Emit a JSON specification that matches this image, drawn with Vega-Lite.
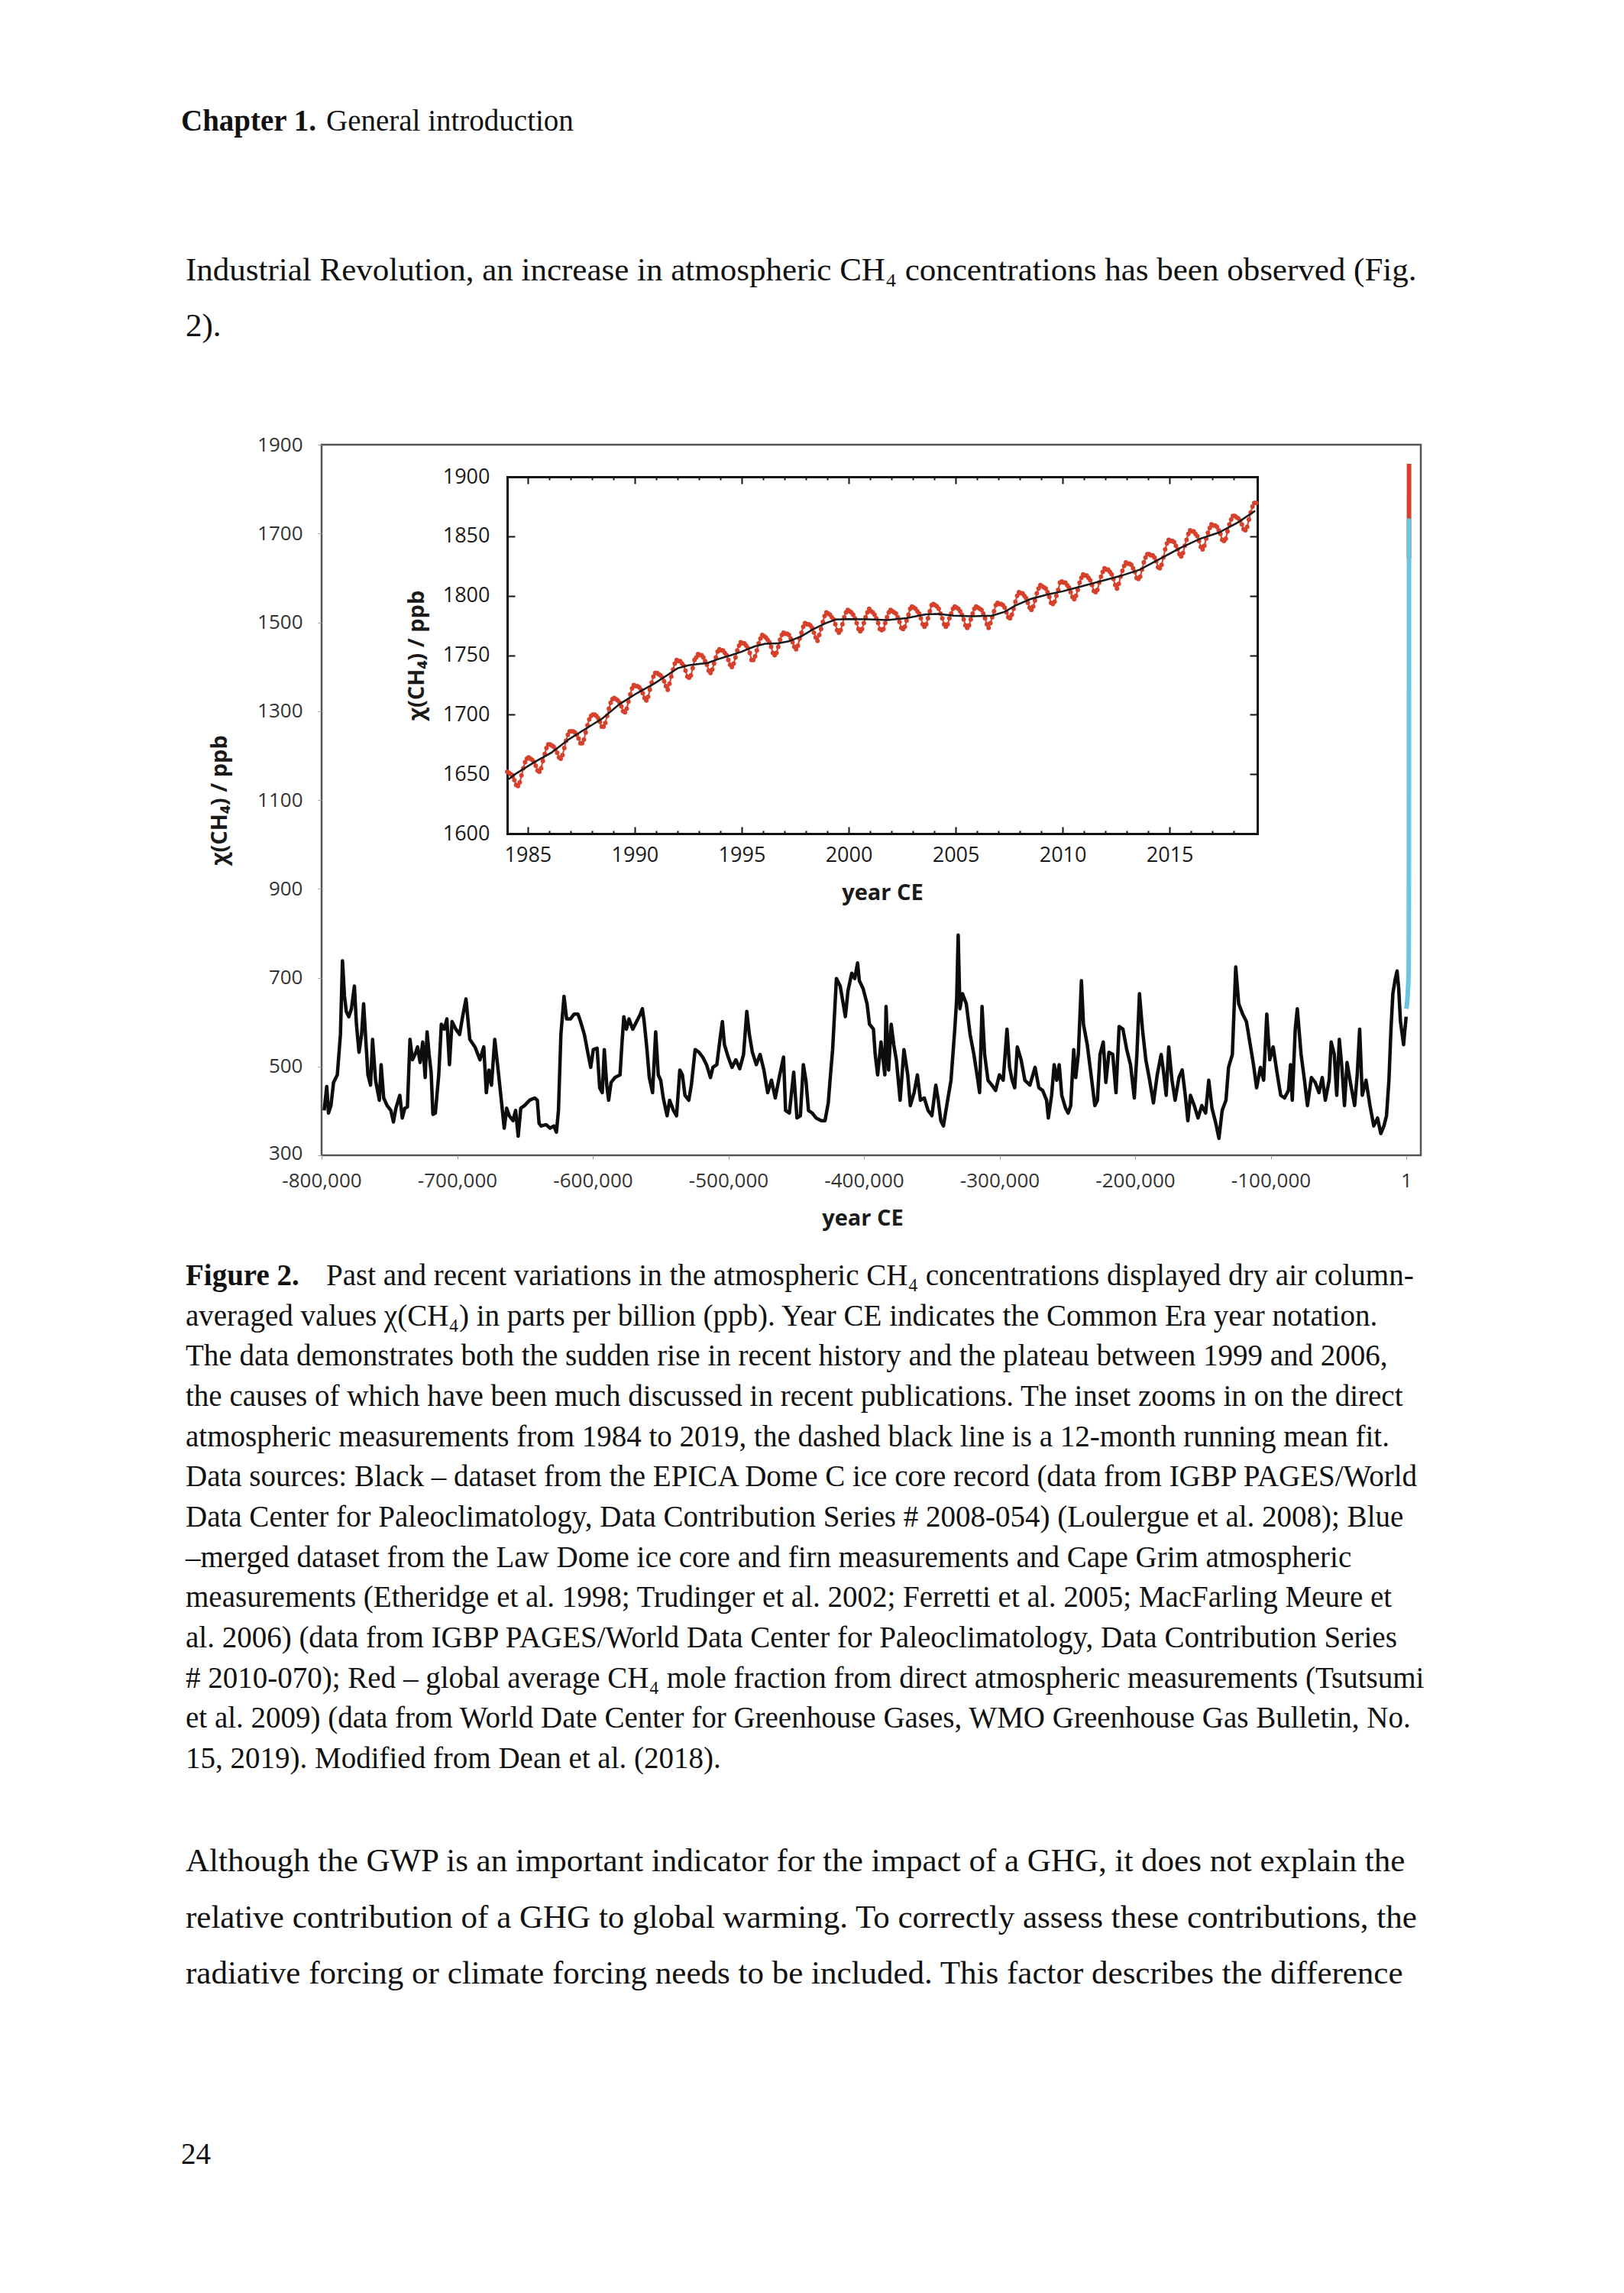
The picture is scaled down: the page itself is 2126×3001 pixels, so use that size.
{
  "$schema": "https://vega.github.io/schema/vega-lite/v6.json",
  "width": 1439,
  "height": 930,
  "autosize": {"type": "none"},
  "padding": {"left": 421, "top": 582, "right": 266, "bottom": 1489},
  "background": "white",
  "config": {
    "view": {"stroke": "#555555", "strokeWidth": 2.5},
    "axis": {"grid": false, "labelFont": "Open Sans", "titleFont": "Open Sans", "labelFlush": false, "labelOverlap": false}
  },
  "datasets": {
    "ice": [
      {"t":-798100,"v":401},{"t":-796200,"v":455},{"t":-794900,"v":395},{"t":-793100,"v":412},{"t":-791200,"v":464},{"t":-788400,"v":481},{"t":-786100,"v":572},{"t":-784600,"v":738},{"t":-783100,"v":658},{"t":-781800,"v":624},{"t":-779900,"v":612},{"t":-778000,"v":630},{"t":-775800,"v":681},{"t":-774300,"v":595},{"t":-772400,"v":532},{"t":-770500,"v":572},{"t":-769000,"v":641},{"t":-767300,"v":555},{"t":-765800,"v":481},{"t":-763900,"v":458},{"t":-762400,"v":561},{"t":-760200,"v":469},{"t":-757400,"v":424},{"t":-756100,"v":504},{"t":-754200,"v":429},{"t":-751700,"v":412},{"t":-748900,"v":401},{"t":-747000,"v":375},{"t":-745200,"v":406},{"t":-742300,"v":435},{"t":-740500,"v":384},{"t":-738600,"v":406},{"t":-736700,"v":409},{"t":-734800,"v":561},{"t":-733000,"v":515},{"t":-731100,"v":527},{"t":-729200,"v":544},{"t":-727300,"v":509},{"t":-725400,"v":555},{"t":-723600,"v":475},{"t":-722200,"v":578},{"t":-720700,"v":527},{"t":-719200,"v":487},{"t":-717900,"v":392},{"t":-716100,"v":395},{"t":-713600,"v":481},{"t":-711700,"v":595},{"t":-709500,"v":584},{"t":-707600,"v":607},{"t":-705700,"v":504},{"t":-703800,"v":601},{"t":-701000,"v":584},{"t":-698200,"v":572},{"t":-696000,"v":612},{"t":-693500,"v":652},{"t":-690700,"v":561},{"t":-686900,"v":544},{"t":-683200,"v":515},{"t":-680400,"v":544},{"t":-678500,"v":441},{"t":-676600,"v":492},{"t":-674700,"v":458},{"t":-672300,"v":561},{"t":-670000,"v":498},{"t":-668200,"v":446},{"t":-665300,"v":361},{"t":-663500,"v":406},{"t":-661600,"v":389},{"t":-658800,"v":378},{"t":-656900,"v":401},{"t":-655000,"v":343},{"t":-653100,"v":406},{"t":-650300,"v":412},{"t":-646600,"v":424},{"t":-642800,"v":429},{"t":-640900,"v":424},{"t":-639600,"v":372},{"t":-638100,"v":366},{"t":-634400,"v":369},{"t":-631500,"v":361},{"t":-628700,"v":366},{"t":-626800,"v":352},{"t":-625300,"v":401},{"t":-623500,"v":572},{"t":-621200,"v":658},{"t":-619300,"v":607},{"t":-616500,"v":607},{"t":-613700,"v":618},{"t":-610900,"v":618},{"t":-609000,"v":601},{"t":-606200,"v":572},{"t":-603400,"v":527},{"t":-601500,"v":498},{"t":-599600,"v":538},{"t":-596800,"v":541},{"t":-594900,"v":452},{"t":-593000,"v":441},{"t":-591500,"v":538},{"t":-589700,"v":458},{"t":-588300,"v":424},{"t":-586500,"v":464},{"t":-583700,"v":475},{"t":-579900,"v":481},{"t":-578400,"v":555},{"t":-577100,"v":612},{"t":-575200,"v":584},{"t":-573300,"v":607},{"t":-570500,"v":584},{"t":-567700,"v":601},{"t":-564900,"v":618},{"t":-563400,"v":630},{"t":-562100,"v":601},{"t":-560200,"v":544},{"t":-558300,"v":475},{"t":-555900,"v":441},{"t":-553600,"v":578},{"t":-551700,"v":481},{"t":-549900,"v":469},{"t":-548000,"v":429},{"t":-545200,"v":389},{"t":-543300,"v":424},{"t":-540500,"v":401},{"t":-538200,"v":389},{"t":-535800,"v":492},{"t":-533900,"v":481},{"t":-532000,"v":435},{"t":-529200,"v":424},{"t":-527300,"v":458},
      {"t":-524500,"v":538},{"t":-521700,"v":532},{"t":-518900,"v":521},{"t":-516100,"v":504},{"t":-513200,"v":475},{"t":-511400,"v":498},{"t":-508500,"v":504},{"t":-505700,"v":572},{"t":-504400,"v":601},{"t":-502900,"v":549},{"t":-500100,"v":521},{"t":-497300,"v":498},{"t":-494500,"v":515},{"t":-491600,"v":495},{"t":-488800,"v":527},{"t":-486400,"v":624},{"t":-484500,"v":572},{"t":-482300,"v":532},{"t":-479400,"v":504},{"t":-476600,"v":527},{"t":-473800,"v":492},{"t":-471000,"v":441},{"t":-468200,"v":469},{"t":-465400,"v":429},{"t":-462500,"v":475},{"t":-459300,"v":521},{"t":-457800,"v":401},{"t":-455000,"v":395},{"t":-451800,"v":487},{"t":-449400,"v":384},{"t":-446900,"v":389},{"t":-444700,"v":504},{"t":-442800,"v":469},{"t":-440900,"v":401},{"t":-438100,"v":395},{"t":-435300,"v":384},{"t":-431500,"v":378},{"t":-428700,"v":378},{"t":-426300,"v":418},{"t":-425000,"v":469},{"t":-423100,"v":538},{"t":-420300,"v":698},{"t":-417500,"v":681},{"t":-415600,"v":647},{"t":-413700,"v":612},{"t":-411800,"v":670},{"t":-409000,"v":710},{"t":-406800,"v":698},{"t":-404700,"v":733},{"t":-403400,"v":693},{"t":-400600,"v":675},{"t":-397700,"v":641},{"t":-395900,"v":595},{"t":-393000,"v":584},{"t":-391700,"v":527},{"t":-389900,"v":481},{"t":-387400,"v":555},{"t":-384600,"v":481},{"t":-383700,"v":635},{"t":-381800,"v":492},{"t":-379900,"v":595},{"t":-378000,"v":549},{"t":-376100,"v":515},{"t":-373300,"v":424},{"t":-370500,"v":538},{"t":-367700,"v":481},{"t":-365800,"v":412},{"t":-363000,"v":441},{"t":-360600,"v":481},{"t":-358300,"v":424},{"t":-355500,"v":429},{"t":-352700,"v":401},{"t":-349900,"v":389},{"t":-347000,"v":458},{"t":-345200,"v":424},{"t":-343300,"v":378},{"t":-341400,"v":366},{"t":-338600,"v":418},{"t":-335800,"v":469},{"t":-333000,"v":584},{"t":-331600,"v":653},{"t":-330500,"v":796},{"t":-329200,"v":630},{"t":-327300,"v":664},{"t":-324500,"v":641},{"t":-321700,"v":572},{"t":-318900,"v":527},{"t":-316000,"v":469},{"t":-314700,"v":441},{"t":-312900,"v":635},{"t":-311000,"v":527},{"t":-308500,"v":469},{"t":-305700,"v":458},{"t":-302900,"v":446},{"t":-300100,"v":481},{"t":-297300,"v":469},{"t":-294500,"v":584},{"t":-292600,"v":498},{"t":-290700,"v":469},{"t":-288800,"v":452},{"t":-286900,"v":544},{"t":-284100,"v":515},{"t":-281300,"v":469},{"t":-277600,"v":458},{"t":-273800,"v":498},{"t":-271000,"v":452},{"t":-268200,"v":446},{"t":-265300,"v":424},{"t":-264000,"v":384},{"t":-261600,"v":435},{"t":-259700,"v":504},{"t":-257800,"v":469},
      {"t":-256000,"v":504},{"t":-254100,"v":435},{"t":-251300,"v":406},{"t":-249400,"v":395},{"t":-247500,"v":412},{"t":-245300,"v":538},{"t":-243800,"v":475},{"t":-241900,"v":527},{"t":-239600,"v":693},{"t":-238100,"v":595},{"t":-235300,"v":549},{"t":-232500,"v":481},{"t":-229700,"v":412},{"t":-227800,"v":424},{"t":-225900,"v":527},{"t":-223500,"v":555},{"t":-221600,"v":464},{"t":-219300,"v":532},{"t":-216500,"v":527},{"t":-214100,"v":441},{"t":-211800,"v":590},{"t":-209000,"v":584},{"t":-206200,"v":538},{"t":-203400,"v":504},{"t":-200600,"v":429},{"t":-198700,"v":527},{"t":-196800,"v":664},{"t":-194600,"v":584},{"t":-192100,"v":515},{"t":-189300,"v":469},{"t":-186500,"v":418},{"t":-183700,"v":481},{"t":-180800,"v":527},{"t":-179000,"v":487},{"t":-177100,"v":435},{"t":-175200,"v":544},{"t":-172800,"v":469},{"t":-170500,"v":424},{"t":-167700,"v":475},{"t":-165300,"v":492},{"t":-163000,"v":435},{"t":-161100,"v":378},{"t":-159200,"v":435},{"t":-156400,"v":412},{"t":-153600,"v":384},{"t":-150800,"v":412},{"t":-148000,"v":395},{"t":-145700,"v":469},{"t":-143300,"v":406},{"t":-140500,"v":372},{"t":-138200,"v":338},{"t":-135800,"v":401},{"t":-133000,"v":424},{"t":-131100,"v":498},{"t":-128300,"v":527},{"t":-125800,"v":724},{"t":-123600,"v":641},{"t":-120700,"v":618},{"t":-117900,"v":601},{"t":-115100,"v":549},{"t":-112700,"v":504},{"t":-110400,"v":452},{"t":-107600,"v":498},{"t":-105200,"v":469},{"t":-102900,"v":618},{"t":-100700,"v":515},{"t":-98200,"v":544},{"t":-95400,"v":487},{"t":-92600,"v":435},{"t":-89800,"v":429},{"t":-86900,"v":446},{"t":-85400,"v":504},{"t":-84100,"v":424},{"t":-81900,"v":584},{"t":-80400,"v":630},{"t":-77600,"v":527},{"t":-75100,"v":469},{"t":-72900,"v":412},{"t":-70000,"v":475},{"t":-67200,"v":464},{"t":-64400,"v":441},{"t":-62000,"v":475},{"t":-59700,"v":424},{"t":-56900,"v":469},{"t":-55400,"v":555},{"t":-53100,"v":527},{"t":-51300,"v":435},{"t":-49400,"v":561},{"t":-47500,"v":498},{"t":-45600,"v":412},{"t":-43700,"v":509},{"t":-40900,"v":458},{"t":-38100,"v":412},{"t":-36200,"v":481},{"t":-34400,"v":584},{"t":-32500,"v":435},{"t":-29700,"v":469},{"t":-26800,"v":412},{"t":-24000,"v":366},{"t":-21200,"v":384},{"t":-18800,"v":349},{"t":-16500,"v":366},{"t":-14600,"v":389},{"t":-12800,"v":469},{"t":-11300,"v":584},{"t":-9900,"v":664},{"t":-8100,"v":698},{"t":-6800,"v":715},{"t":-5600,"v":675},{"t":-4300,"v":601},{"t":-2000,"v":549},{"t":-1000,"v":584},{"t":-100,"v":612}
    ],
    "lawdome": [
      {"t":0,"v":630},{"t":500,"v":640},{"t":1000,"v":660},{"t":1500,"v":690},{"t":1700,"v":710},{"t":1800,"v":740},{"t":1850,"v":800},{"t":1900,"v":880},{"t":1950,"v":1150},{"t":1970,"v":1400},{"t":1980,"v":1560},{"t":1990,"v":1680},{"t":2000,"v":1734}
    ],
    "direct": [
      {"t":1984,"v":1645},{"t":1990,"v":1714},{"t":1995,"v":1753},{"t":2000,"v":1780},{"t":2005,"v":1783},{"t":2010,"v":1804},{"t":2015,"v":1839},{"t":2018,"v":1857}
    ],
    "monthly": [
      {"t":1984.042,"v":1652},{"t":1984.125,"v":1651},{"t":1984.208,"v":1650},{"t":1984.292,"v":1648},{"t":1984.375,"v":1645},{"t":1984.458,"v":1641},{"t":1984.542,"v":1640},{"t":1984.625,"v":1643},{"t":1984.708,"v":1649},{"t":1984.792,"v":1655},{"t":1984.875,"v":1660},{"t":1984.958,"v":1663},
      {"t":1985.042,"v":1664},{"t":1985.125,"v":1663},{"t":1985.208,"v":1662},{"t":1985.292,"v":1660},{"t":1985.375,"v":1657},{"t":1985.458,"v":1653},{"t":1985.542,"v":1652},{"t":1985.625,"v":1655},{"t":1985.708,"v":1661},{"t":1985.792,"v":1667},{"t":1985.875,"v":1672},{"t":1985.958,"v":1675},
      {"t":1986.042,"v":1675},{"t":1986.125,"v":1674},{"t":1986.208,"v":1673},{"t":1986.292,"v":1671},{"t":1986.375,"v":1668},{"t":1986.458,"v":1664},{"t":1986.542,"v":1663},{"t":1986.625,"v":1666},{"t":1986.708,"v":1672},{"t":1986.792,"v":1678},{"t":1986.875,"v":1683},{"t":1986.958,"v":1686},
      {"t":1987.042,"v":1686},{"t":1987.125,"v":1686},{"t":1987.208,"v":1685},{"t":1987.292,"v":1683},{"t":1987.375,"v":1680},{"t":1987.458,"v":1676},{"t":1987.542,"v":1676},{"t":1987.625,"v":1679},{"t":1987.708,"v":1685},{"t":1987.792,"v":1691},{"t":1987.875,"v":1696},{"t":1987.958,"v":1699},
      {"t":1988.042,"v":1700},{"t":1988.125,"v":1700},{"t":1988.208,"v":1699},{"t":1988.292,"v":1697},{"t":1988.375,"v":1694},{"t":1988.458,"v":1690},{"t":1988.542,"v":1690},{"t":1988.625,"v":1693},{"t":1988.708,"v":1699},{"t":1988.792,"v":1705},{"t":1988.875,"v":1710},{"t":1988.958,"v":1713},
      {"t":1989.042,"v":1714},{"t":1989.125,"v":1713},{"t":1989.208,"v":1712},{"t":1989.292,"v":1710},{"t":1989.375,"v":1707},{"t":1989.458,"v":1703},{"t":1989.542,"v":1702},{"t":1989.625,"v":1705},{"t":1989.708,"v":1711},{"t":1989.792,"v":1717},{"t":1989.875,"v":1722},{"t":1989.958,"v":1725},
      {"t":1990.042,"v":1724},{"t":1990.125,"v":1724},{"t":1990.208,"v":1723},{"t":1990.292,"v":1721},{"t":1990.375,"v":1718},{"t":1990.458,"v":1714},{"t":1990.542,"v":1712},{"t":1990.625,"v":1715},{"t":1990.708,"v":1721},{"t":1990.792,"v":1727},{"t":1990.875,"v":1732},{"t":1990.958,"v":1735},
      {"t":1991.042,"v":1735},{"t":1991.125,"v":1734},{"t":1991.208,"v":1733},{"t":1991.292,"v":1731},{"t":1991.375,"v":1728},{"t":1991.458,"v":1724},{"t":1991.542,"v":1721},{"t":1991.625,"v":1726},{"t":1991.708,"v":1732},{"t":1991.792,"v":1738},{"t":1991.875,"v":1743},{"t":1991.958,"v":1746},
      {"t":1992.042,"v":1745},{"t":1992.125,"v":1745},{"t":1992.208,"v":1743},{"t":1992.292,"v":1741},{"t":1992.375,"v":1737},{"t":1992.458,"v":1732},{"t":1992.542,"v":1731},{"t":1992.625,"v":1733},{"t":1992.708,"v":1739},{"t":1992.792,"v":1746},{"t":1992.875,"v":1748},{"t":1992.958,"v":1751},
      {"t":1993.042,"v":1750},{"t":1993.125,"v":1750},{"t":1993.208,"v":1748},{"t":1993.292,"v":1745},{"t":1993.375,"v":1742},{"t":1993.458,"v":1737},{"t":1993.542,"v":1735},{"t":1993.625,"v":1738},{"t":1993.708,"v":1743},{"t":1993.792,"v":1748},{"t":1993.875,"v":1753},{"t":1993.958,"v":1755},
      {"t":1994.042,"v":1754},{"t":1994.125,"v":1754},{"t":1994.208,"v":1752},{"t":1994.292,"v":1750},{"t":1994.375,"v":1746},{"t":1994.458,"v":1742},{"t":1994.542,"v":1740},{"t":1994.625,"v":1743},{"t":1994.708,"v":1748},{"t":1994.792,"v":1754},{"t":1994.875,"v":1758},{"t":1994.958,"v":1761},
      {"t":1995.042,"v":1760},{"t":1995.125,"v":1760},{"t":1995.208,"v":1758},{"t":1995.292,"v":1756},{"t":1995.375,"v":1752},{"t":1995.458,"v":1746},{"t":1995.542,"v":1746},{"t":1995.625,"v":1749},{"t":1995.708,"v":1754},{"t":1995.792,"v":1760},{"t":1995.875,"v":1764},{"t":1995.958,"v":1767},
      {"t":1996.042,"v":1766},{"t":1996.125,"v":1765},{"t":1996.208,"v":1763},{"t":1996.292,"v":1761},{"t":1996.375,"v":1757},{"t":1996.458,"v":1752},{"t":1996.542,"v":1750},{"t":1996.625,"v":1752},{"t":1996.708,"v":1757},{"t":1996.792,"v":1763},{"t":1996.875,"v":1767},{"t":1996.958,"v":1769},
      {"t":1997.042,"v":1768},{"t":1997.125,"v":1768},{"t":1997.208,"v":1767},{"t":1997.292,"v":1764},{"t":1997.375,"v":1761},{"t":1997.458,"v":1757},{"t":1997.542,"v":1755},{"t":1997.625,"v":1758},{"t":1997.708,"v":1764},{"t":1997.792,"v":1769},{"t":1997.875,"v":1774},{"t":1997.958,"v":1777},
      {"t":1998.042,"v":1776},{"t":1998.125,"v":1776},{"t":1998.208,"v":1775},{"t":1998.292,"v":1773},{"t":1998.375,"v":1769},{"t":1998.458,"v":1765},{"t":1998.542,"v":1762},{"t":1998.625,"v":1767},{"t":1998.708,"v":1772},{"t":1998.792,"v":1778},{"t":1998.875,"v":1783},{"t":1998.958,"v":1786},
      {"t":1999.042,"v":1785},{"t":1999.125,"v":1784},{"t":1999.208,"v":1782},{"t":1999.292,"v":1780},{"t":1999.375,"v":1776},{"t":1999.458,"v":1771},{"t":1999.542,"v":1769},{"t":1999.625,"v":1771},{"t":1999.708,"v":1776},{"t":1999.792,"v":1782},{"t":1999.875,"v":1786},{"t":1999.958,"v":1788},
      {"t":2000.042,"v":1787},{"t":2000.125,"v":1786},{"t":2000.208,"v":1784},{"t":2000.292,"v":1781},{"t":2000.375,"v":1777},{"t":2000.458,"v":1772},{"t":2000.542,"v":1770},{"t":2000.625,"v":1772},{"t":2000.708,"v":1777},{"t":2000.792,"v":1782},{"t":2000.875,"v":1786},{"t":2000.958,"v":1789},
      {"t":2001.042,"v":1787},{"t":2001.125,"v":1786},{"t":2001.208,"v":1784},{"t":2001.292,"v":1781},{"t":2001.375,"v":1777},{"t":2001.458,"v":1772},{"t":2001.542,"v":1771},{"t":2001.625,"v":1772},{"t":2001.708,"v":1777},{"t":2001.792,"v":1782},{"t":2001.875,"v":1786},{"t":2001.958,"v":1788},
      {"t":2002.042,"v":1787},{"t":2002.125,"v":1786},{"t":2002.208,"v":1785},{"t":2002.292,"v":1782},{"t":2002.375,"v":1778},{"t":2002.458,"v":1773},{"t":2002.542,"v":1772},{"t":2002.625,"v":1774},{"t":2002.708,"v":1779},{"t":2002.792,"v":1784},{"t":2002.875,"v":1789},{"t":2002.958,"v":1791},
      {"t":2003.042,"v":1790},{"t":2003.125,"v":1789},{"t":2003.208,"v":1787},{"t":2003.292,"v":1785},{"t":2003.375,"v":1781},{"t":2003.458,"v":1776},{"t":2003.542,"v":1774},{"t":2003.625,"v":1776},{"t":2003.708,"v":1781},{"t":2003.792,"v":1787},{"t":2003.875,"v":1792},{"t":2003.958,"v":1793},
      {"t":2004.042,"v":1792},{"t":2004.125,"v":1791},{"t":2004.208,"v":1789},{"t":2004.292,"v":1785},{"t":2004.375,"v":1781},{"t":2004.458,"v":1776},{"t":2004.542,"v":1774},{"t":2004.625,"v":1776},{"t":2004.708,"v":1781},{"t":2004.792,"v":1785},{"t":2004.875,"v":1789},{"t":2004.958,"v":1791},
      {"t":2005.042,"v":1790},{"t":2005.125,"v":1789},{"t":2005.208,"v":1787},{"t":2005.292,"v":1784},{"t":2005.375,"v":1780},{"t":2005.458,"v":1775},{"t":2005.542,"v":1773},{"t":2005.625,"v":1775},{"t":2005.708,"v":1780},{"t":2005.792,"v":1785},{"t":2005.875,"v":1789},{"t":2005.958,"v":1791},
      {"t":2006.042,"v":1790},{"t":2006.125,"v":1789},{"t":2006.208,"v":1788},{"t":2006.292,"v":1785},{"t":2006.375,"v":1781},{"t":2006.458,"v":1776},{"t":2006.542,"v":1773},{"t":2006.625,"v":1777},{"t":2006.708,"v":1782},{"t":2006.792,"v":1787},{"t":2006.875,"v":1792},{"t":2006.958,"v":1794},
      {"t":2007.042,"v":1793},{"t":2007.125,"v":1793},{"t":2007.208,"v":1792},{"t":2007.292,"v":1790},{"t":2007.375,"v":1786},{"t":2007.458,"v":1782},{"t":2007.542,"v":1781},{"t":2007.625,"v":1784},{"t":2007.708,"v":1789},{"t":2007.792,"v":1795},{"t":2007.875,"v":1800},{"t":2007.958,"v":1803},
      {"t":2008.042,"v":1802},{"t":2008.125,"v":1802},{"t":2008.208,"v":1800},{"t":2008.292,"v":1798},{"t":2008.375,"v":1794},{"t":2008.458,"v":1790},{"t":2008.542,"v":1788},{"t":2008.625,"v":1791},{"t":2008.708,"v":1796},{"t":2008.792,"v":1802},{"t":2008.875,"v":1806},{"t":2008.958,"v":1809},
      {"t":2009.042,"v":1808},{"t":2009.125,"v":1807},{"t":2009.208,"v":1806},{"t":2009.292,"v":1803},{"t":2009.375,"v":1799},{"t":2009.458,"v":1794},{"t":2009.542,"v":1793},{"t":2009.625,"v":1795},{"t":2009.708,"v":1800},{"t":2009.792,"v":1805},{"t":2009.875,"v":1811},{"t":2009.958,"v":1812},
      {"t":2010.042,"v":1811},{"t":2010.125,"v":1811},{"t":2010.208,"v":1809},{"t":2010.292,"v":1807},{"t":2010.375,"v":1803},{"t":2010.458,"v":1799},{"t":2010.542,"v":1797},{"t":2010.625,"v":1800},{"t":2010.708,"v":1805},{"t":2010.792,"v":1811},{"t":2010.875,"v":1815},{"t":2010.958,"v":1818},
      {"t":2011.042,"v":1817},{"t":2011.125,"v":1817},{"t":2011.208,"v":1815},{"t":2011.292,"v":1813},{"t":2011.375,"v":1809},{"t":2011.458,"v":1804},{"t":2011.542,"v":1803},{"t":2011.625,"v":1805},{"t":2011.708,"v":1811},{"t":2011.792,"v":1816},{"t":2011.875,"v":1820},{"t":2011.958,"v":1823},
      {"t":2012.042,"v":1822},{"t":2012.125,"v":1822},{"t":2012.208,"v":1820},{"t":2012.292,"v":1818},{"t":2012.375,"v":1814},{"t":2012.458,"v":1809},{"t":2012.542,"v":1806},{"t":2012.625,"v":1810},{"t":2012.708,"v":1816},{"t":2012.792,"v":1821},{"t":2012.875,"v":1825},{"t":2012.958,"v":1828},
      {"t":2013.042,"v":1827},{"t":2013.125,"v":1827},{"t":2013.208,"v":1826},{"t":2013.292,"v":1823},{"t":2013.375,"v":1820},{"t":2013.458,"v":1815},{"t":2013.542,"v":1814},{"t":2013.625,"v":1816},{"t":2013.708,"v":1822},{"t":2013.792,"v":1828},{"t":2013.875,"v":1832},{"t":2013.958,"v":1835},
      {"t":2014.042,"v":1835},{"t":2014.125,"v":1834},{"t":2014.208,"v":1834},{"t":2014.292,"v":1832},{"t":2014.375,"v":1829},{"t":2014.458,"v":1824},{"t":2014.542,"v":1823},{"t":2014.625,"v":1826},{"t":2014.708,"v":1832},{"t":2014.792,"v":1839},{"t":2014.875,"v":1844},{"t":2014.958,"v":1847},
      {"t":2015.042,"v":1846},{"t":2015.125,"v":1846},{"t":2015.208,"v":1845},{"t":2015.292,"v":1842},{"t":2015.375,"v":1839},{"t":2015.458,"v":1835},{"t":2015.542,"v":1833},{"t":2015.625,"v":1836},{"t":2015.708,"v":1842},{"t":2015.792,"v":1847},{"t":2015.875,"v":1852},{"t":2015.958,"v":1855},
      {"t":2016.042,"v":1854},{"t":2016.125,"v":1854},{"t":2016.208,"v":1852},{"t":2016.292,"v":1850},{"t":2016.375,"v":1846},{"t":2016.458,"v":1841},{"t":2016.542,"v":1839},{"t":2016.625,"v":1842},{"t":2016.708,"v":1848},{"t":2016.792,"v":1853},{"t":2016.875,"v":1857},{"t":2016.958,"v":1860},
      {"t":2017.042,"v":1859},{"t":2017.125,"v":1859},{"t":2017.208,"v":1858},{"t":2017.292,"v":1855},{"t":2017.375,"v":1852},{"t":2017.458,"v":1847},{"t":2017.542,"v":1846},{"t":2017.625,"v":1848},{"t":2017.708,"v":1854},{"t":2017.792,"v":1860},{"t":2017.875,"v":1864},{"t":2017.958,"v":1867},
      {"t":2018.042,"v":1867},{"t":2018.125,"v":1866},{"t":2018.208,"v":1865},{"t":2018.292,"v":1863},{"t":2018.375,"v":1860},{"t":2018.458,"v":1856},{"t":2018.542,"v":1855},{"t":2018.625,"v":1858},{"t":2018.708,"v":1864},{"t":2018.792,"v":1870},{"t":2018.875,"v":1875},{"t":2018.958,"v":1878},
      {"t":2019.042,"v":1878}
    ],
    "fit": [
      {"t":1984.04,"v":1645},{"t":1984.5,"v":1651},{"t":1985.3,"v":1660},{"t":1986.1,"v":1668},{"t":1986.9,"v":1679},{"t":1987.7,"v":1688},{"t":1988.5,"v":1697},{"t":1989.3,"v":1709},{"t":1990.1,"v":1718},{"t":1990.9,"v":1726},{"t":1991.5,"v":1733},{"t":1992.0,"v":1739},{"t":1992.5,"v":1741.5},{"t":1992.9,"v":1742.4},{"t":1993.4,"v":1743.4},{"t":1993.9,"v":1746.7},{"t":1994.5,"v":1750},{"t":1995.0,"v":1753},{"t":1995.6,"v":1757.4},{"t":1996.1,"v":1759.6},{"t":1996.7,"v":1760},{"t":1997.2,"v":1761.7},{"t":1997.8,"v":1766},{"t":1998.3,"v":1771.4},{"t":1998.9,"v":1776.8},{"t":1999.4,"v":1780},{"t":2000.0,"v":1780.4},{"t":2000.9,"v":1780.2},{"t":2001.8,"v":1779.6},{"t":2002.7,"v":1781.1},{"t":2003.6,"v":1784.3},{"t":2004.2,"v":1784.7},{"t":2004.9,"v":1783.2},{"t":2005.8,"v":1782.8},{"t":2006.7,"v":1783.2},{"t":2007.3,"v":1786.5},{"t":2007.8,"v":1791.8},{"t":2008.5,"v":1797.2},{"t":2009.3,"v":1801.1},{"t":2010.0,"v":1803.7},{"t":2010.9,"v":1808},{"t":2011.8,"v":1812.3},{"t":2012.7,"v":1816.6},{"t":2013.6,"v":1821.9},{"t":2014.5,"v":1830.5},{"t":2015.5,"v":1840.2},{"t":2016.4,"v":1847.7},{"t":2017.3,"v":1853.1},{"t":2018.2,"v":1861.7},{"t":2019.0,"v":1871.4}
    ]
  },
  "layer": [
    {
      "layer": [
        {
          "data": {"name": "ice"},
          "mark": {"type": "line", "color": "#0d0d0d", "strokeWidth": 4.5, "strokeJoin": "round"},
          "encoding": {
            "x": {"field": "t", "type": "quantitative",
              "scale": {"domain": [-800000, 10700], "nice": false, "zero": false},
              "axis": {"orient": "bottom", "values": [-800000,-700000,-600000,-500000,-400000,-300000,-200000,-100000,0],
                "labelExpr": "datum.value == 0 ? '1' : '-' + format(abs(datum.value), ',')",
                "domain": false, "tickSize": 5, "tickColor": "#999999", "labelPadding": 15,
                "labelFontSize": 26, "labelColor": "#333333",
                "title": "year CE", "titleFontSize": 29, "titleFontWeight": "bold", "titleColor": "#1a1a1a",
                "titleX": 708, "titleY": 82, "titleBaseline": "middle"}},
            "y": {"field": "v", "type": "quantitative",
              "scale": {"domain": [300, 1900], "nice": false, "zero": false},
              "axis": {"orient": "left", "values": [300,500,700,900,1100,1300,1500,1700,1900], "format": "d",
                "domain": false, "tickSize": 5, "tickColor": "#999999", "labelPadding": 20,
                "labelFontSize": 26, "labelColor": "#333333",
                "labelOffset": {"condition": {"test": "datum.value == 300", "value": -3}, "value": 0},
                "title": "χ(CH₄) / ppb", "titleFontSize": 29, "titleFontWeight": "bold", "titleColor": "#1a1a1a",
                "titleX": -134, "titleBaseline": "middle"}}
          }
        },
        {
          "data": {"name": "direct"},
          "mark": {"type": "line", "color": "#d7402b", "strokeWidth": 6},
          "encoding": {"x": {"field": "t", "type": "quantitative"}, "y": {"field": "v", "type": "quantitative"}}
        },
        {
          "data": {"name": "lawdome"},
          "mark": {"type": "line", "color": "#6cc4e4", "strokeWidth": 6},
          "encoding": {"x": {"field": "t", "type": "quantitative"}, "y": {"field": "v", "type": "quantitative"}}
        }
      ]
    },
    {
      "layer": [
        {
          "data": {"name": "monthly"},
          "mark": {"type": "line", "color": "#d7402b", "strokeWidth": 2},
          "encoding": {
            "x": {"field": "t", "type": "quantitative",
              "scale": {"domain": [1984.04, 2019.1], "range": [243, 1225], "nice": false, "zero": false},
              "axis": {"orient": "bottom", "offset": -421, "values": [1985,1990,1995,2000,2005,2010,2015], "format": "d",
                "ticks": false, "tickSize": 0, "labelPadding": 15, "labelFontSize": 27, "labelColor": "#1a1a1a",
                "domain": true, "domainColor": "#111111", "domainWidth": 3, "domainCap": "square",
                "title": "year CE", "titleFontSize": 29, "titleFontWeight": "bold", "titleColor": "#1a1a1a",
                "titleY": 77, "titleBaseline": "middle"}},
            "y": {"field": "v", "type": "quantitative",
              "scale": {"domain": [1600, 1900], "range": [509, 42], "nice": false, "zero": false},
              "axis": {"orient": "left", "offset": -243, "values": [1600,1650,1700,1750,1800,1850,1900], "format": "d",
                "ticks": false, "tickSize": 0, "labelPadding": 23, "labelFontSize": 27, "labelColor": "#1a1a1a",
                "domain": true, "domainColor": "#111111", "domainWidth": 3, "domainCap": "square",
                "title": "χ(CH₄) / ppb", "titleFontSize": 29, "titleFontWeight": "bold", "titleColor": "#1a1a1a",
                "titleX": -119, "titleBaseline": "middle"}}
          }
        },
        {
          "data": {"name": "monthly"},
          "mark": {"type": "circle", "color": "#d7402b", "size": 36, "opacity": 1},
          "encoding": {"x": {"field": "t", "type": "quantitative"}, "y": {"field": "v", "type": "quantitative"}}
        },
        {
          "data": {"name": "fit"},
          "mark": {"type": "line", "color": "#1a1a1a", "strokeWidth": 2.5},
          "encoding": {"x": {"field": "t", "type": "quantitative"}, "y": {"field": "v", "type": "quantitative"}}
        }
      ]
    },
    {
      "data": {"name": "fit"},
      "mark": {"type": "line", "strokeOpacity": 0},
      "encoding": {
        "x": {"field": "t", "type": "quantitative",
          "scale": {"domain": [1984.04, 2019.1], "range": [243, 1225], "nice": false, "zero": false},
          "axis": {"orient": "bottom", "offset": -421, "labels": false, "domain": false, "title": null,
            "values": [1985,1986,1987,1988,1989,1990,1991,1992,1993,1994,1995,1996,1997,1998,1999,2000,2001,2002,2003,2004,2005,2006,2007,2008,2009,2010,2011,2012,2013,2014,2015,2016,2017,2018],
            "tickColor": "#111111", "tickWidth": 2,
            "tickSize": {"condition": {"test": "datum.value % 5 == 0", "value": -9}, "value": -4}}},
        "y": {"field": "v", "type": "quantitative",
          "scale": {"domain": [1600, 1900], "range": [509, 42], "nice": false, "zero": false},
          "axis": {"orient": "left", "offset": -243, "labels": false, "domain": false, "title": null,
            "values": [1650,1700,1750,1800,1850], "tickColor": "#111111", "tickWidth": 2, "tickSize": -10}}
      }
    },
    {
      "data": {"name": "fit"},
      "mark": {"type": "line", "strokeOpacity": 0},
      "encoding": {
        "x": {"field": "t", "type": "quantitative",
          "scale": {"domain": [1984.04, 2019.1], "range": [243, 1225], "nice": false, "zero": false},
          "axis": {"orient": "top", "offset": -42, "labels": false, "title": null,
            "domain": true, "domainColor": "#111111", "domainWidth": 3, "domainCap": "square",
            "values": [1985,1986,1987,1988,1989,1990,1991,1992,1993,1994,1995,1996,1997,1998,1999,2000,2001,2002,2003,2004,2005,2006,2007,2008,2009,2010,2011,2012,2013,2014,2015,2016,2017,2018],
            "tickColor": "#111111", "tickWidth": 2,
            "tickSize": {"condition": {"test": "datum.value % 5 == 0", "value": -9}, "value": -4}}},
        "y": {"field": "v", "type": "quantitative",
          "scale": {"domain": [1600, 1900], "range": [509, 42], "nice": false, "zero": false},
          "axis": {"orient": "right", "offset": -214, "labels": false, "title": null,
            "domain": true, "domainColor": "#111111", "domainWidth": 3, "domainCap": "square",
            "values": [1650,1700,1750,1800,1850], "tickColor": "#111111", "tickWidth": 2, "tickSize": -10}}
      }
    },
    {
      "data": {"values": [{"line": 1, "text": "Chapter 1."}]},
      "mark": {"type": "text", "align": "left", "baseline": "alphabetic", "font": "Liberation Serif", "fontSize": 39, "fontWeight": "bold", "color": "#111111"},
      "encoding": {
        "x": {"datum": 0, "type": "quantitative", "scale": {"domain": [0, 1], "range": [-184, 1460]}, "axis": null},
        "y": {"field": "line", "type": "quantitative", "scale": {"domain": [0, 1], "range": [-511, -411], "nice": false, "zero": false}, "axis": null},
        "text": {"field": "text"}
      }
    },
    {
      "data": {"values": [{"line": 1, "text": "General introduction"}]},
      "mark": {"type": "text", "align": "left", "baseline": "alphabetic", "font": "Liberation Serif", "fontSize": 39, "color": "#111111", "dx": 190},
      "encoding": {
        "x": {"datum": 0, "type": "quantitative", "scale": {"domain": [0, 1], "range": [-184, 1460]}, "axis": null},
        "y": {"field": "line", "type": "quantitative", "scale": {"domain": [0, 1], "range": [-511, -411], "nice": false, "zero": false}, "axis": null},
        "text": {"field": "text"}
      }
    },
    {
      "data": {"values": [
        {"line": 1, "text": "Industrial Revolution, an increase in atmospheric CH₄ concentrations has been observed (Fig."},
        {"line": 2, "text": "2)."}
      ]},
      "mark": {"type": "text", "align": "left", "baseline": "alphabetic", "font": "Liberation Serif", "fontSize": 43, "color": "#111111"},
      "encoding": {
        "x": {"datum": 0, "type": "quantitative", "scale": {"domain": [0, 1], "range": [-178, 1460]}, "axis": null},
        "y": {"field": "line", "type": "quantitative", "scale": {"domain": [1, 2], "range": [-215, -142], "nice": false, "zero": false}, "axis": null},
        "text": {"field": "text"}
      }
    },
    {
      "data": {"values": [{"line": 1, "text": "Figure 2."}]},
      "mark": {"type": "text", "align": "left", "baseline": "alphabetic", "font": "Liberation Serif", "fontSize": 39, "fontWeight": "bold", "color": "#111111"},
      "encoding": {
        "x": {"datum": 0, "type": "quantitative", "scale": {"domain": [0, 1], "range": [-178, 1460]}, "axis": null},
        "y": {"field": "line", "type": "quantitative", "scale": {"domain": [1, 13], "range": [1100, 1732], "nice": false, "zero": false}, "axis": null},
        "text": {"field": "text"}
      }
    },
    {
      "data": {"values": [{"line": 1, "text": "Past and recent variations in the atmospheric CH₄ concentrations displayed dry air column-"}]},
      "mark": {"type": "text", "align": "left", "baseline": "alphabetic", "font": "Liberation Serif", "fontSize": 39, "color": "#111111", "dx": 184},
      "encoding": {
        "x": {"datum": 0, "type": "quantitative", "scale": {"domain": [0, 1], "range": [-178, 1460]}, "axis": null},
        "y": {"field": "line", "type": "quantitative", "scale": {"domain": [1, 13], "range": [1100, 1732], "nice": false, "zero": false}, "axis": null},
        "text": {"field": "text"}
      }
    },
    {
      "data": {"values": [
        {"line": 2, "text": "averaged values χ(CH₄) in parts per billion (ppb). Year CE indicates the Common Era year notation."},
        {"line": 3, "text": "The data demonstrates both the sudden rise in recent history and the plateau between 1999 and 2006,"},
        {"line": 4, "text": "the causes of which have been much discussed in recent publications. The inset zooms in on the direct"},
        {"line": 5, "text": "atmospheric measurements from 1984 to 2019, the dashed black line is a 12-month running mean fit."},
        {"line": 6, "text": "Data sources: Black – dataset from the EPICA Dome C ice core record (data from IGBP PAGES/World"},
        {"line": 7, "text": "Data Center for Paleoclimatology, Data Contribution Series # 2008-054) (Loulergue et al. 2008); Blue"},
        {"line": 8, "text": "–merged dataset from the Law Dome ice core and firn measurements and Cape Grim atmospheric"},
        {"line": 9, "text": "measurements (Etheridge et al. 1998; Trudinger et al. 2002; Ferretti et al. 2005; MacFarling Meure et"},
        {"line": 10, "text": "al. 2006) (data from IGBP PAGES/World Data Center for Paleoclimatology, Data Contribution Series"},
        {"line": 11, "text": "# 2010-070); Red – global average CH₄ mole fraction from direct atmospheric measurements (Tsutsumi"},
        {"line": 12, "text": "et al. 2009) (data from World Date Center for Greenhouse Gases, WMO Greenhouse Gas Bulletin, No."},
        {"line": 13, "text": "15, 2019). Modified from Dean et al. (2018)."}
      ]},
      "mark": {"type": "text", "align": "left", "baseline": "alphabetic", "font": "Liberation Serif", "fontSize": 39, "color": "#111111"},
      "encoding": {
        "x": {"datum": 0, "type": "quantitative", "scale": {"domain": [0, 1], "range": [-178, 1460]}, "axis": null},
        "y": {"field": "line", "type": "quantitative", "scale": {"domain": [1, 13], "range": [1100, 1732], "nice": false, "zero": false}, "axis": null},
        "text": {"field": "text"}
      }
    },
    {
      "data": {"values": [
        {"line": 1, "text": "Although the GWP is an important indicator for the impact of a GHG, it does not explain the"},
        {"line": 2, "text": "relative contribution of a GHG to global warming. To correctly assess these contributions, the"},
        {"line": 3, "text": "radiative forcing or climate forcing needs to be included. This factor describes the difference"}
      ]},
      "mark": {"type": "text", "align": "left", "baseline": "alphabetic", "font": "Liberation Serif", "fontSize": 43, "color": "#111111"},
      "encoding": {
        "x": {"datum": 0, "type": "quantitative", "scale": {"domain": [0, 1], "range": [-178, 1460]}, "axis": null},
        "y": {"field": "line", "type": "quantitative", "scale": {"domain": [1, 3], "range": [1867, 2014], "nice": false, "zero": false}, "axis": null},
        "text": {"field": "text"}
      }
    },
    {
      "data": {"values": [{"line": 1, "text": "24"}]},
      "mark": {"type": "text", "align": "left", "baseline": "alphabetic", "font": "Liberation Serif", "fontSize": 39, "color": "#111111"},
      "encoding": {
        "x": {"datum": 0, "type": "quantitative", "scale": {"domain": [0, 1], "range": [-184, 1460]}, "axis": null},
        "y": {"field": "line", "type": "quantitative", "scale": {"domain": [0, 1], "range": [2150, 2250], "nice": false, "zero": false}, "axis": null},
        "text": {"field": "text"}
      }
    }
  ],
  "resolve": {"scale": {"x": "independent", "y": "independent"}}
}
